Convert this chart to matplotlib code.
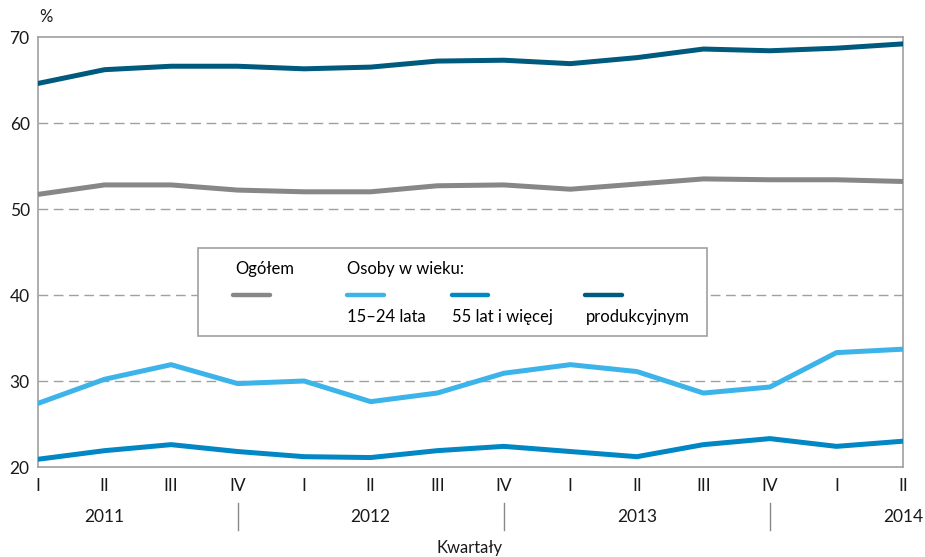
import matplotlib
matplotlib.use("Agg")
import matplotlib.pyplot as plt
from matplotlib.lines import Line2D
from matplotlib.patches import Rectangle
import matplotlib.transforms as mtransforms

plt.rcParams['font.family'] = ['Lato', 'DejaVu Sans']

# quarters 2011 I .. 2014 II
quarters = ['I', 'II', 'III', 'IV', 'I', 'II', 'III', 'IV',
            'I', 'II', 'III', 'IV', 'I', 'II']
years = ['2011', '2012', '2013', '2014']
year_pos = [1, 5, 9, 13]
separators = [3, 7, 11]

ogolem = [51.7, 52.8, 52.8, 52.2, 52.0, 52.0, 52.7, 52.8,
          52.3, 52.9, 53.5, 53.4, 53.4, 53.2]
wiek_15_24 = [27.4, 30.2, 31.9, 29.7, 30.0, 27.6, 28.6, 30.9,
              31.9, 31.1, 28.6, 29.3, 33.3, 33.7]
wiek_55 = [20.9, 21.9, 22.6, 21.8, 21.2, 21.1, 21.9, 22.4,
           21.8, 21.2, 22.6, 23.3, 22.4, 23.0]
produkcyjny = [64.6, 66.2, 66.6, 66.6, 66.3, 66.5, 67.2, 67.3,
               66.9, 67.6, 68.6, 68.4, 68.7, 69.2]

c_gray = '#878787'
c_light = '#3cb4ea'
c_mid = '#0087c4'
c_dark = '#005a7d'

W, H = 925, 557
fig = plt.figure(figsize=(W / 100, H / 100), dpi=100)
ax = fig.add_axes([38 / W, 1 - 467 / H, 865 / W, 430 / H])

x = list(range(len(quarters)))
lw = 3.6
ax.plot(x, produkcyjny, color=c_dark, lw=lw, solid_joinstyle='round', zorder=3)
ax.plot(x, ogolem, color=c_gray, lw=lw, solid_joinstyle='round', zorder=3)
ax.plot(x, wiek_15_24, color=c_light, lw=lw, solid_joinstyle='round', zorder=3)
ax.plot(x, wiek_55, color=c_mid, lw=lw, solid_joinstyle='round', zorder=3)

ax.set_xlim(0, 13)
ax.set_ylim(20, 70)
ax.set_yticks([20, 30, 40, 50, 60, 70])
ax.set_xticks(x)
ax.set_xticklabels(quarters)
ax.tick_params(length=0, labelsize=12.5, colors='#1a1a1a', pad=8)
ax.tick_params(axis='y', pad=6)
for y in [30, 40, 50, 60]:
    ax.axhline(y, color='#a0a0a0', lw=1, dashes=(7, 4), zorder=1)
for s in ax.spines.values():
    s.set_color('#a0a0a0')
    s.set_linewidth(1.2)

trans = mtransforms.blended_transform_factory(ax.transData, ax.transAxes)
for yr, p in zip(years, year_pos):
    ax.text(p, -0.116, yr, transform=trans, ha='center', va='center',
            fontsize=12.5, color='#1a1a1a')
for s in separators:
    ax.plot([s, s], [-0.084, -0.147], transform=trans, color='#888888',
            lw=1, clip_on=False)

fig.text(470 / W, 1 - 548 / H, 'Kwartały', ha='center', va='center',
         fontsize=12, color='#1a1a1a')
fig.text(39 / W, 1 - 17 / H, '%', ha='left', va='center',
         fontsize=12, color='#1a1a1a')

# legend box
fig.patches.append(Rectangle((198 / W, 1 - 336 / H), 509 / W, 88 / H,
                             transform=fig.transFigure, facecolor='white',
                             edgecolor='#a0a0a0', lw=1.2, zorder=5))

def fx(px):
    return px / W

def fy(py):
    return 1 - py / H

fig.text(fx(235), fy(269), 'Ogółem', fontsize=12, va='center', zorder=6)
fig.text(fx(347), fy(269), 'Osoby w wieku:', fontsize=12, va='center', zorder=6)
for (x0, x1), col in [((233, 270), c_gray), ((347, 384), c_light),
                      ((452, 488), c_mid), ((585, 622), c_dark)]:
    fig.lines.append(Line2D([fx(x0), fx(x1)], [fy(295), fy(295)],
                            transform=fig.transFigure, color=col, lw=3.2,
                            solid_capstyle='round', zorder=6))
fig.text(fx(347), fy(317), '15–24 lata', fontsize=12, va='center', zorder=6)
fig.text(fx(452), fy(317), '55 lat i więcej', fontsize=12, va='center', zorder=6)
fig.text(fx(586), fy(317), 'produkcyjnym', fontsize=12, va='center', zorder=6)

fig.savefig('out.png', dpi=100)
